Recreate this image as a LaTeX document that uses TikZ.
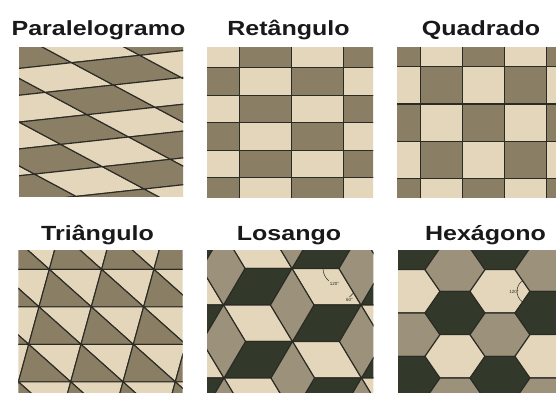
\documentclass[tikz,border=0pt]{standalone}
\usepackage{fontspec}
\setmainfont{Liberation Sans}
\usetikzlibrary{calc}
\definecolor{tlight}{HTML}{E4D6BA}
\definecolor{tmed}{HTML}{8A7E64}
\definecolor{tmedb}{HTML}{9C917B}
\definecolor{tdark}{HTML}{33392A}
\definecolor{tline}{HTML}{2B2B25}
\begin{document}
\begin{tikzpicture}[x=1pt,y=-1pt,
  tile/.style={draw=tline, line width=1.1pt, line join=round},
  ttl/.style={font=\bfseries\fontsize{20.5}{24}\selectfont, anchor=base, inner sep=0pt, text=black!90},
  note/.style={font=\fontsize{4.5}{5}\selectfont, inner sep=0pt, text=tline},
  notearc/.style={draw=tline, line width=0.5pt}]
\path[use as bounding box, fill=white] (0,0) rectangle (556,392);

% titles
\node[ttl] (t1) at (98.5,35.5) {\scalebox{1.22}[1]{Paralelogramo}};
\node[ttl] (t2) at (288.5,35.5) {\scalebox{1.22}[1]{Retângulo}};
\node[ttl] (t3) at (481,35.5) {\scalebox{1.22}[1]{Quadrado}};
\node[ttl] (t4) at (97.5,240) {\scalebox{1.22}[1]{Triângulo}};
\node[ttl] (t5) at (289,240) {\scalebox{1.22}[1]{Losango}};
\node[ttl] (t6) at (485.5,240) {\scalebox{1.22}[1]{Hexágono}};

% panel 1: parallelograms
\begin{scope}
\clip (19,47) rectangle (183,196);
\foreach \i in {-7,...,3}{
 \foreach \j in {-2,...,7}{
  \pgfmathtruncatemacro\pp{mod(\i+\j+20,2)}
  \ifnum\pp=0 \def\col{tmed}\else\def\col{tlight}\fi
  \filldraw[tile, fill=\col] ({71.7+68*\i+41.7*\j},{62.7-7.4*\i+22.3*\j}) -- ++(68,-7.4) -- ++(41.7,22.3) -- ++(-68,7.4) -- cycle;
 }}
\end{scope}

% panel 2: rectangles
\begin{scope}
\clip (207,47) rectangle (373,197);
\foreach \i in {-1,...,3}{
 \foreach \j in {-1,...,4}{
  \pgfmathtruncatemacro\pp{mod(\i+\j+20,2)}
  \ifnum\pp=0 \def\col{tlight}\else\def\col{tmed}\fi
  \filldraw[tile, fill=\col] ({239.3+52.3*\i},{67.7+27.5*\j}) rectangle ++(52.3,27.5);
 }}
\end{scope}

% panel 3: squares
\begin{scope}
\clip (397,47) rectangle (556,197);
\foreach \i in {-1,...,3}{
 \foreach \j in {-1,...,3}{
  \pgfmathtruncatemacro\pp{mod(\i+\j+20,2)}
  \ifnum\pp=0 \def\col{tmed}\else\def\col{tlight}\fi
  \filldraw[tile, fill=\col] ({420.7+42*\i},{66.7+37.3*\j}) rectangle ++(42,37.3);
 }}
\end{scope}

% panel 4: triangles
\begin{scope}
\clip (18.3,250) rectangle (182.7,392);
\foreach \i in {-3,...,3}{
 \foreach \j in {-1,...,3}{
  \pgfmathsetmacro\px{49.3+52.3*\i-10.3*\j}
  \pgfmathsetmacro\py{269.3+37.5*\j}
  \filldraw[tile, fill=tlight] (\px,\py) -- ++(52.3,0) -- ++(-10.3,37.5) -- cycle;
  \filldraw[tile, fill=tmed] (\px,\py) -- ++(-10.3,37.5) -- ++(52.3,0) -- cycle;
 }}
\end{scope}

% panel 5: rhombi (tumbling blocks)
\begin{scope}
\clip (207,250) rectangle (373.3,392);
\foreach \m in {-4,...,4}{
 \foreach \n in {-4,...,4}{
  \pgfmathsetmacro\cx{245+69*\m+68.5*\n}
  \pgfmathsetmacro\cy{268.5+36.5*\m-36.5*\n}
  \filldraw[tile, fill=tlight] (\cx,\cy) -- ++(47,0) -- ++(-22,-36.5) -- ++(-47,0) -- cycle;
  \filldraw[tile, fill=tdark] (\cx,\cy) -- ++(47,0) -- ++(-21.5,36.5) -- ++(-47,0) -- cycle;
  \filldraw[tile, fill=tmedb] (\cx,\cy) -- ++(-22,-36.5) -- ++(-21.5,36.5) -- ++(22,36.5) -- cycle;
 }}
\coordinate (r1) at (339,268.5);
\coordinate (r2) at (361,305);
\draw[notearc] ($(r1)+(-16,0)$) arc[start angle=180, end angle=130, radius=16];
\node[note] (n120) at (334.5,284) {120°};
\draw[notearc] ($(r2)+(236:14)$) arc[start angle=236, end angle=215, radius=14];
\node[note] (n60) at (349.5,300) {60°};
\end{scope}

% panel 6: hexagons
\begin{scope}
\clip (398,250) rectangle (556,392);
\foreach \c in {-1,...,4}{
 \foreach \k in {-1,...,4}{
  \pgfmathtruncatemacro\od{mod(\c+10,2)}
  \pgfmathsetmacro\hx{410+45*\c}
  \pgfmathsetmacro\hy{248+43.33*\k+21.67*\od}
  \pgfmathtruncatemacro\ci{mod(\k+12+2*\od,3)}
  \ifcase\ci \def\col{tdark}\or\def\col{tlight}\or\def\col{tmedb}\fi
  \filldraw[tile, fill=\col] (\hx+30,\hy) -- ++(-15,21.67) -- ++(-30,0) -- ++(-15,-21.67) -- ++(15,-21.67) -- ++(30,0) -- cycle;
 }}
\coordinate (h1) at (530,291.33);
\draw[notearc] ($(h1)+(125:13)$) arc[start angle=125, end angle=235, radius=13];
\node[note] (h120) at (514,291.5) {120°};
\end{scope}
\end{tikzpicture}
\end{document}
